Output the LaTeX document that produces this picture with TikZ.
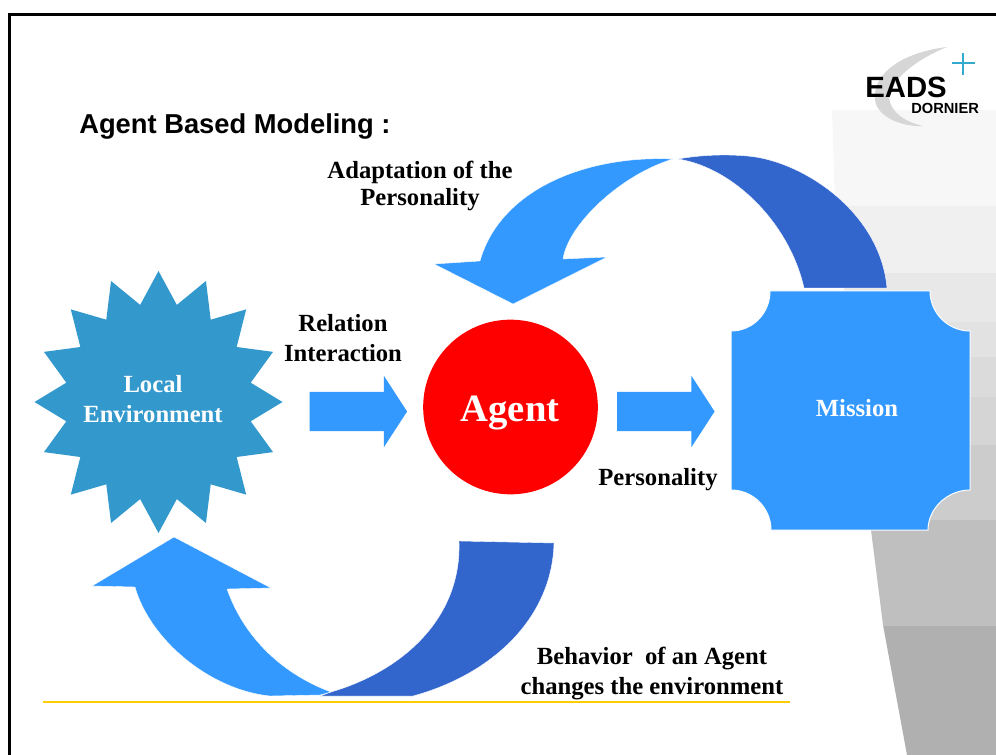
\documentclass[tikz,border=0pt]{standalone}
\usepackage{fontspec}
\setmainfont{Liberation Serif}
\newfontfamily\logofont{Liberation Sans}
\usetikzlibrary{calc,shapes.arrows}
\definecolor{lightarrow}{HTML}{3399FF}
\definecolor{darkarrow}{HTML}{3366CC}
\definecolor{starblue}{HTML}{3399CC}
\definecolor{rule}{HTML}{FFCC00}
\definecolor{plusblue}{HTML}{33AACC}
\tikzset{
  labeltext/.style = {align = center, inner sep = 0pt, font = \bfseries\fontsize{18.5}{20}\selectfont},
  whitetext/.style = {labeltext, text = white},
  blockarrow/.style = {single arrow, fill = lightarrow, inner xsep = 0pt, inner ysep = 14.6pt, minimum height = 73pt,
    single arrow head extend = 12pt, single arrow tip angle = 114},
  curvearrow/.style = {draw = white, line width = .3pt}
}

\begin{document}
\begin{tikzpicture}[x = .75pt, y = -.75pt]
\useasboundingbox (0,0) rectangle (996,755);

%grey steps on the right
\begin{scope}
\clip (832,110) -- (996,110) -- (996,755) -- (907,755) -- (883,625) -- (871,530) -- (835,206) -- cycle;
\foreach \ytop/\ybot/\shade in {110/206/3, 206/273/6, 273/322/9, 322/357/11.5, 357/397/14, 397/445/16.5, 445/520/20, 520/626/25, 626/755/31}
  \fill[black!\shade!white] (800,\ytop) rectangle (996,\ybot);
\end{scope}

%frame
\draw[line width = 2.25pt, miter limit = 10] (996,15) -- (9.5,15) -- (9.5,755);

%logo
\fill[black!16!white] (947,47) .. controls (905,52) and (872,72) .. (875,100)
   .. controls (877,116) and (900,127) .. (923,126)
   .. controls (905,122) and (890,112) .. (889,97)
   .. controls (891,80) and (915,60) .. (947,47) -- cycle;
\draw[plusblue, line width = 1pt] (963,53) -- (963,75);
\draw[plusblue, line width = 1pt] (952,63) -- (975,63);
\node[anchor = base west, inner sep = 0pt, font = \logofont\bfseries\fontsize{22}{24}\selectfont] (eads) at (865,98) {EADS};
\node[anchor = base west, inner sep = 0pt, font = \logofont\bfseries\fontsize{11}{12}\selectfont] (dornier) at (911,114) {DORNIER};

%title
\node[anchor = base west, inner sep = 0pt, font = \logofont\bfseries\fontsize{20.5}{24}\selectfont] (title) at (79,134) {Agent Based Modeling :};

%local environment
\fill[starblue] ($(158.5,402)+(0:124 and 131)$)
  \foreach \a in {0,22.5,...,337.5} {
    -- ($(158.5,402)+(\a+11.25:94 and 99)$) -- ($(158.5,402)+(\a+22.5:124 and 131)$)
  } -- cycle;
\node[whitetext, font = \bfseries\fontsize{18.5}{22.5}\selectfont] (environment) at (153,399) {Local\\Environment};

%agent
\node[circle, fill = red, inner sep = 0pt, minimum size = 131pt] (agent) at (510.5,407) {};
\node[inner sep = 0pt, text = white, font = \bfseries\fontsize{29}{30}\selectfont] (agentlabel) at (510,413) {Agent};

%mission
\fill[lightarrow, draw = white, line width = .75pt] (770,291) -- (930,291)
   .. controls (930,313) and (948,331) .. (970,331) -- (970,490)
   .. controls (948,490) and (928,508) .. (928,530) -- (771,530)
   .. controls (771,508) and (753,490) .. (731,490) -- (731,331)
   .. controls (753,331) and (770,313) .. (770,291) -- cycle;
\node[whitetext] (mission) at (857,408) {Mission};

%straight arrows
\node[blockarrow] (relationarrow) at (352,411.5) {};
\node[blockarrow] (personalityarrow) at (659.5,411.5) {};

%bottom line
\coordinate (rulestart) at (43,702);
\coordinate (ruleend) at (790,702);
\draw[rule, line width = 1.5pt] (rulestart) -- (ruleend);

%adaptation arrow
\fill[darkarrow, curvearrow] (678,159) .. controls (700,155) and (725,154) .. (747,156)
   .. controls (800,160) and (880,210) .. (887,288) -- (804,288)
   .. controls (790,225) and (735,168) .. (678,159) -- cycle;
\fill[lightarrow, curvearrow] (673,159) .. controls (585,155) and (500,190) .. (480,261)
   -- (434,264) -- (513,304) -- (607,257) -- (563,259)
   .. controls (568,225) and (620,175) .. (673,159) -- cycle;

%behavior arrow
\fill[darkarrow, curvearrow] (459,541) -- (554,543)
   .. controls (552,620) and (490,675) .. (413,696) -- (320,696) -- (331,692)
   .. controls (400,672) and (462,620) .. (459,541) -- cycle;
\fill[lightarrow, curvearrow] (174,537) -- (92,586) -- (135,587)
   .. controls (150,640) and (210,690) .. (270,696) -- (320,695) -- (331,692)
   .. controls (285,675) and (245,640) .. (227,589) -- (271,588) -- cycle;

%labels
\node[labeltext] (adaptation) at (420,186) {Adaptation of the\\Personality};
\node[labeltext, font = \bfseries\fontsize{18.5}{22.5}\selectfont] (relation) at (343,338) {Relation\\Interaction};
\node[labeltext] (personality) at (658,480) {Personality};
\node[labeltext, font = \bfseries\fontsize{18.5}{22.5}\selectfont] (behavior) at (652,674) {Behavior\ \ of an Agent\\changes the environment};
\end{tikzpicture}
\end{document}
